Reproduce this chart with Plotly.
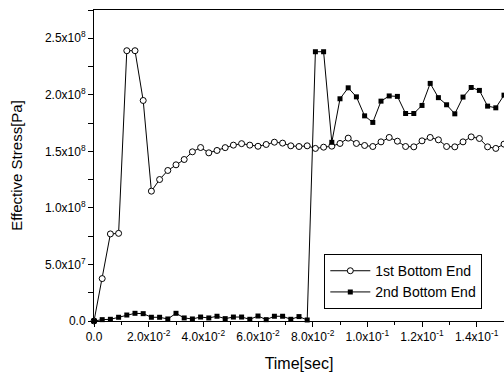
import plotly.graph_objects as go

# Sample times [sec]
time = [0.000, 0.003, 0.006, 0.009, 0.012, 0.015, 0.018, 0.021, 0.024, 0.027,
        0.030, 0.033, 0.036, 0.039, 0.042, 0.045, 0.048, 0.051, 0.054, 0.057,
        0.060, 0.063, 0.066, 0.069, 0.072, 0.075, 0.078, 0.081, 0.084, 0.087,
        0.090, 0.093, 0.096, 0.099, 0.102, 0.105, 0.108, 0.111, 0.114, 0.117,
        0.120, 0.123, 0.126, 0.129, 0.132, 0.135, 0.138, 0.141, 0.144, 0.147,
        0.150]

# Effective stress in units of 1e8 Pa
first_end = [0.000, 0.375, 0.770, 0.775, 2.390, 2.390, 1.950, 1.148, 1.251, 1.331,
             1.381, 1.428, 1.496, 1.534, 1.487, 1.508, 1.533, 1.555, 1.568, 1.555,
             1.545, 1.561, 1.581, 1.573, 1.549, 1.543, 1.549, 1.526, 1.537, 1.546,
             1.570, 1.617, 1.570, 1.552, 1.543, 1.584, 1.623, 1.590, 1.543, 1.540,
             1.593, 1.623, 1.602, 1.543, 1.540, 1.584, 1.628, 1.614, 1.540, 1.526,
             1.564]
second_end = [0.000, 0.012, 0.015, 0.033, 0.053, 0.068, 0.065, 0.033, 0.033, 0.018,
              0.068, 0.027, 0.018, 0.035, 0.027, 0.042, 0.021, 0.035, 0.035, 0.015,
              0.044, 0.012, 0.042, 0.042, 0.015, 0.039, 0.009, 2.381, 2.381, 1.580,
              1.965, 2.062, 1.982, 1.814, 1.756, 1.944, 1.990, 1.986, 1.835, 1.835,
              1.906, 2.101, 1.975, 1.912, 1.832, 1.980, 2.065, 2.039, 1.900, 1.885,
              1.997]
SCALE = 1e8

x_ticks = [0.0, 0.02, 0.04, 0.06, 0.08, 0.10, 0.12, 0.14]
x_labels = ["0.0", "2.0x10<sup>-2</sup>", "4.0x10<sup>-2</sup>", "6.0x10<sup>-2</sup>",
            "8.0x10<sup>-2</sup>", "1.0x10<sup>-1</sup>", "1.2x10<sup>-1</sup>",
            "1.4x10<sup>-1</sup>"]
y_ticks = [0.0, 5e7, 1e8, 1.5e8, 2e8, 2.5e8]
y_labels = ["0.0", "5.0x10<sup>7</sup>", "1.0x10<sup>8</sup>", "1.5x10<sup>8</sup>",
            "2.0x10<sup>8</sup>", "2.5x10<sup>8</sup>"]

FONT = "Arial, Liberation Sans, sans-serif"

fig = go.Figure()
fig.add_trace(go.Scatter(
    x=time, y=[v * SCALE for v in first_end], name="1st Bottom End",
    mode="lines+markers", cliponaxis=False,
    line=dict(color="black", width=1),
    marker=dict(symbol="circle", size=6, color="white",
                line=dict(color="black", width=1)),
))
fig.add_trace(go.Scatter(
    x=time, y=[v * SCALE for v in second_end], name="2nd Bottom End",
    mode="lines+markers", cliponaxis=False,
    line=dict(color="black", width=1),
    marker=dict(symbol="square", size=5, color="black",
                line=dict(color="black", width=0)),
))

fig.update_layout(
    width=504, height=373,
    margin=dict(l=94, r=0, t=10, b=52),
    paper_bgcolor="white", plot_bgcolor="white",
    font=dict(family=FONT, color="black", size=12),
    showlegend=True,
    legend=dict(x=0.5617, y=0.215, xanchor="left", yanchor="top",
                bgcolor="white", bordercolor="black", borderwidth=1,
                font=dict(size=14, family=FONT), tracegroupgap=0,
                itemwidth=40),
)
fig.update_xaxes(
    range=[0, 0.15], showgrid=False, zeroline=False,
    showline=True, linecolor="black", linewidth=1, mirror=True,
    ticks="outside", ticklen=5, tickcolor="black", tickwidth=1,
    tickvals=x_ticks, ticktext=x_labels, tickfont=dict(size=12),
    minor=dict(ticks="outside", ticklen=3, dtick=0.01, tickcolor="black", showgrid=False),
    title=dict(text="Time[sec]", font=dict(size=16), standoff=14),
)
fig.update_yaxes(
    range=[0, 2.75e8], showgrid=False, zeroline=False,
    showline=True, linecolor="black", linewidth=1,
    ticks="outside", ticklen=5, tickcolor="black", tickwidth=1,
    tickvals=y_ticks, ticktext=y_labels, tickfont=dict(size=12),
    minor=dict(ticks="outside", ticklen=5, dtick=2.5e7, tickcolor="black", showgrid=False),
    title=dict(text="Effective Stress[Pa]", font=dict(size=15), standoff=18),
)

fig.write_html("out.html")
